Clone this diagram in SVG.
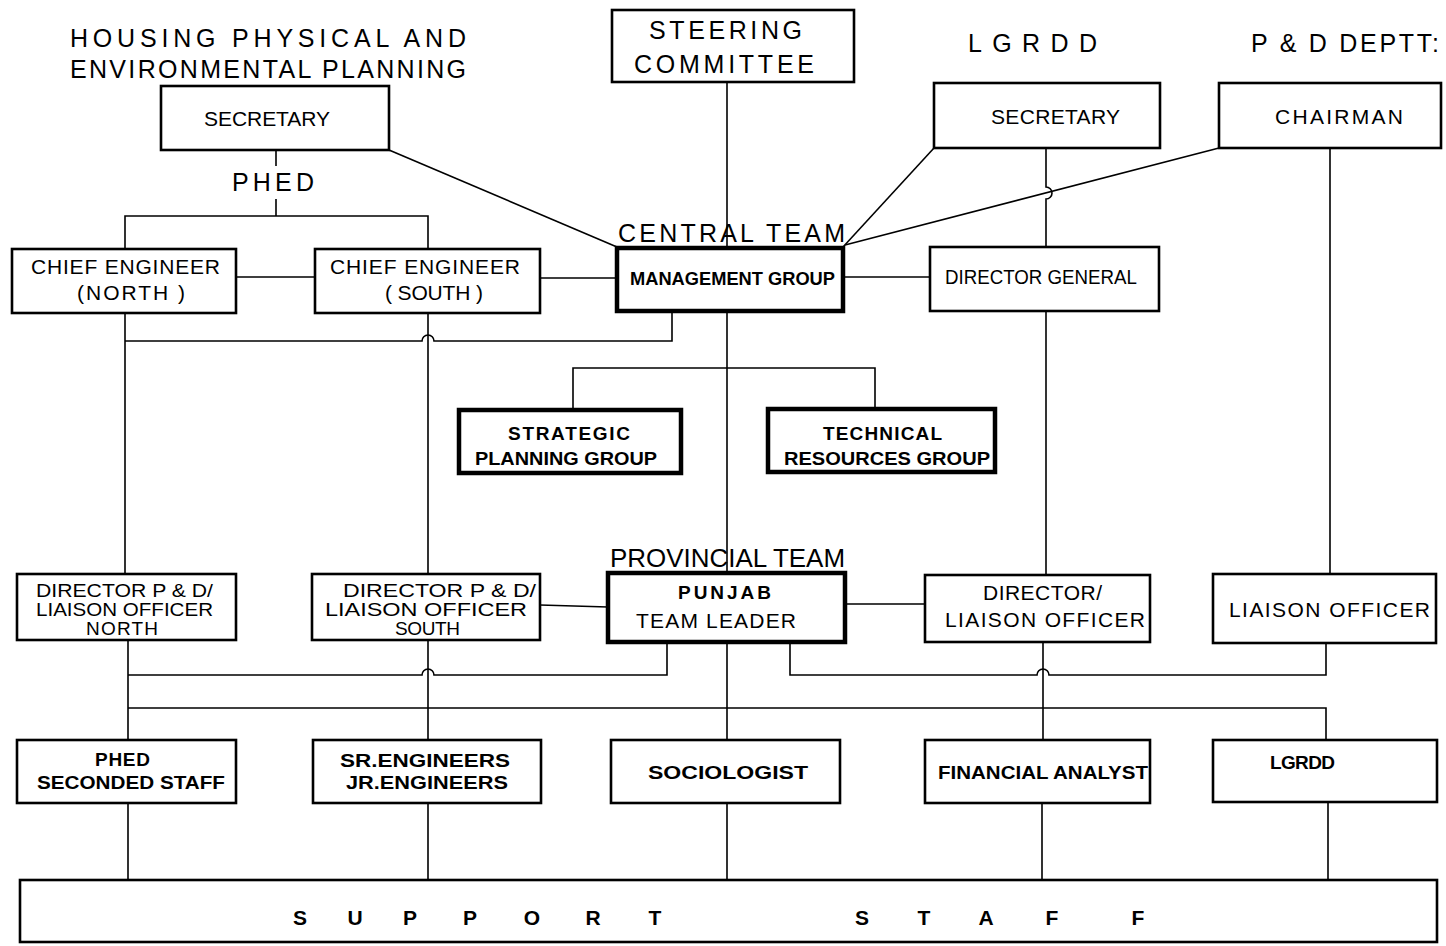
<svg xmlns="http://www.w3.org/2000/svg" width="1446" height="946" viewBox="0 0 1446 946">
<style>
.bg{fill:#fff}
.box{fill:#fff;stroke:#000;stroke-width:2.6}
.thick{fill:#fff;stroke:#000;stroke-width:4.5}
.ln{fill:none;stroke:#000;stroke-width:1.6}
text{font-family:"Liberation Sans","DejaVu Sans",sans-serif;fill:#000}
.h{font-size:25px}
.t{font-size:21px}
.m{font-size:19px}
.b{font-size:19px;font-weight:bold}
.s{font-size:21px;font-weight:bold}
</style>
<rect class="bg" x="0" y="0" width="1446" height="946"/>
<g id="connectors">
<path class="ln" d="M276 150V166M276 199V216M125 249V216H428V249"/>
<path class="ln" d="M236 277H315M540 278H617"/>
<path class="ln" d="M389 150L617 247"/>
<path class="ln" d="M727 82V247"/>
<path class="ln" d="M934 148L843 247"/>
<path class="ln" d="M1219 148L845 245"/>
<path class="ln" d="M1046 148V187A6 6 0 0 1 1046 199V247"/>
<path class="ln" d="M843 277H930"/>
<path class="ln" d="M1330 148V574"/>
<path class="ln" d="M125 313V574M428 313V574"/>
<path class="ln" d="M672 312V341H434A6 6 0 0 0 422 341H125"/>
<path class="ln" d="M727 312V572"/>
<path class="ln" d="M573 410V368H875V409"/>
<path class="ln" d="M1046 311V575"/>
<path class="ln" d="M540 605L608 607M845 604H925"/>
<path class="ln" d="M667 642V675H434A6 6 0 0 0 422 675H128"/>
<path class="ln" d="M790 642V675H1037A6 6 0 0 1 1049 675H1326V643"/>
<path class="ln" d="M128 640V740M428 640V740M727 642V740M1043 642V740"/>
<path class="ln" d="M128 708H1326V740"/>
<path class="ln" d="M128 803V880M428 803V880M727 803V880M1042 803V880M1328 802V880"/>
</g>
<g id="title-housing">
<text class="h" x="70" y="47" textLength="396">HOUSING PHYSICAL AND</text>
<text class="h" x="70" y="78" textLength="396">ENVIRONMENTAL PLANNING</text>
</g>
<g id="title-lgrdd"><text class="h" x="968" y="52" textLength="129">LGRDD</text></g>
<g id="title-pd"><text class="h" x="1251" y="52" textLength="188">P &amp; D DEPTT:</text></g>
<g id="steering">
<rect class="box" x="612" y="10" width="242" height="72"/>
<text class="h" x="649" y="39" textLength="153">STEERING</text>
<text class="h" x="634" y="73" textLength="180">COMMITTEE</text>
</g>
<g id="hpep-secretary">
<rect class="box" x="161" y="86" width="228" height="64"/>
<text class="t" x="204" y="126" textLength="126">SECRETARY</text>
</g>
<g id="phed-label"><text class="h" x="232" y="191" textLength="82">PHED</text></g>
<g id="ce-north">
<rect class="box" x="12" y="249" width="224" height="64"/>
<text class="t" x="31" y="274" textLength="189">CHIEF ENGINEER</text>
<text class="t" x="77" y="300" textLength="108">(NORTH )</text>
</g>
<g id="ce-south">
<rect class="box" x="315" y="249" width="225" height="64"/>
<text class="t" x="330" y="274" textLength="190">CHIEF ENGINEER</text>
<text class="t" x="385" y="300" textLength="98">( SOUTH )</text>
</g>
<g id="central-team">
<text class="h" x="618" y="242" textLength="227">CENTRAL TEAM</text>
<rect class="thick" x="617" y="248" width="226" height="63"/>
<text class="b" x="630" y="285" textLength="205" lengthAdjust="spacingAndGlyphs">MANAGEMENT GROUP</text>
</g>
<g id="lgrdd-secretary">
<rect class="box" x="934" y="83" width="226" height="65"/>
<text class="t" x="991" y="124" textLength="129">SECRETARY</text>
</g>
<g id="chairman">
<rect class="box" x="1219" y="83" width="222" height="65"/>
<text class="t" x="1275" y="124" textLength="128">CHAIRMAN</text>
</g>
<g id="director-general">
<rect class="box" x="930" y="247" width="229" height="64"/>
<text class="t" x="945" y="284" textLength="192" lengthAdjust="spacingAndGlyphs">DIRECTOR GENERAL</text>
</g>
<g id="strategic">
<rect class="thick" x="459" y="410" width="222" height="63"/>
<text class="b" x="508" y="440" textLength="122">STRATEGIC</text>
<text class="b" x="475" y="465" textLength="182" lengthAdjust="spacingAndGlyphs">PLANNING GROUP</text>
</g>
<g id="technical">
<rect class="thick" x="768" y="409" width="227" height="63"/>
<text class="b" x="823" y="440" textLength="119">TECHNICAL</text>
<text class="b" x="784" y="465" textLength="206" lengthAdjust="spacingAndGlyphs">RESOURCES GROUP</text>
</g>
<g id="provincial-team">
<text class="h" x="610" y="567" textLength="235" lengthAdjust="spacingAndGlyphs">PROVINCIAL TEAM</text>
<rect class="thick" x="608" y="573" width="237" height="69"/>
<text class="b" x="678" y="599" textLength="93">PUNJAB</text>
<text class="t" x="636" y="628" textLength="160">TEAM LEADER</text>
</g>
<g id="dir-north">
<rect class="box" x="17" y="574" width="219" height="66"/>
<text class="m" x="36" y="597" textLength="177" lengthAdjust="spacingAndGlyphs">DIRECTOR P &amp; D/</text>
<text class="m" x="36" y="616" textLength="177" lengthAdjust="spacingAndGlyphs">LIAISON OFFICER</text>
<text class="m" x="86" y="635" textLength="72">NORTH</text>
</g>
<g id="dir-south">
<rect class="box" x="312" y="574" width="228" height="66"/>
<text class="m" x="343" y="597" textLength="193" lengthAdjust="spacingAndGlyphs">DIRECTOR P &amp; D/</text>
<text class="m" x="325" y="616" textLength="202" lengthAdjust="spacingAndGlyphs">LIAISON OFFICER</text>
<text class="m" x="395" y="635" textLength="65">SOUTH</text>
</g>
<g id="dir-liaison">
<rect class="box" x="925" y="575" width="225" height="67"/>
<text class="t" x="983" y="600" textLength="119">DIRECTOR/</text>
<text class="t" x="945" y="627" textLength="200">LIAISON OFFICER</text>
</g>
<g id="liaison-officer">
<rect class="box" x="1213" y="574" width="223" height="69"/>
<text class="t" x="1229" y="617" textLength="201">LIAISON OFFICER</text>
</g>
<g id="phed-staff">
<rect class="box" x="17" y="740" width="219" height="63"/>
<text class="b" x="95" y="766" textLength="55">PHED</text>
<text class="b" x="37" y="789" textLength="188" lengthAdjust="spacingAndGlyphs">SECONDED STAFF</text>
</g>
<g id="engineers">
<rect class="box" x="313" y="740" width="228" height="63"/>
<text class="b" x="340" y="767" textLength="170" lengthAdjust="spacingAndGlyphs">SR.ENGINEERS</text>
<text class="b" x="346" y="789" textLength="162" lengthAdjust="spacingAndGlyphs">JR.ENGINEERS</text>
</g>
<g id="sociologist">
<rect class="box" x="611" y="740" width="229" height="63"/>
<text class="b" x="648" y="779" textLength="160" lengthAdjust="spacingAndGlyphs">SOCIOLOGIST</text>
</g>
<g id="financial-analyst">
<rect class="box" x="925" y="740" width="225" height="63"/>
<text class="b" x="938" y="779" textLength="210" lengthAdjust="spacingAndGlyphs">FINANCIAL ANALYST</text>
</g>
<g id="lgrdd-staff">
<rect class="box" x="1213" y="740" width="224" height="62"/>
<text class="b" x="1270" y="769" textLength="65">LGRDD</text>
</g>
<g id="support-staff">
<rect class="box" x="20" y="880" width="1417" height="62"/>
<text class="s" y="925" text-anchor="middle"><tspan x="300">S</tspan><tspan x="355">U</tspan><tspan x="410">P</tspan><tspan x="470">P</tspan><tspan x="532">O</tspan><tspan x="593">R</tspan><tspan x="655">T</tspan><tspan x="862">S</tspan><tspan x="924">T</tspan><tspan x="986">A</tspan><tspan x="1052">F</tspan><tspan x="1138">F</tspan></text>
</g>
</svg>
